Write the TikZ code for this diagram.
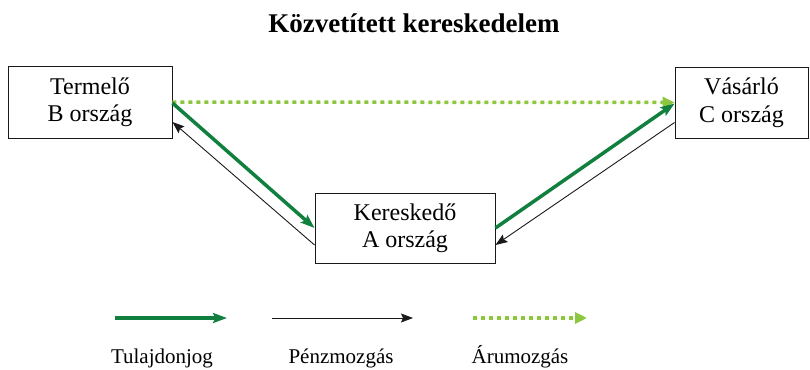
\documentclass[tikz,border=0pt]{standalone}
\usepackage{fontspec}
\setmainfont{Liberation Serif}
\usepackage{tikz}
\usepackage{xcolor}
\usetikzlibrary{arrows.meta,positioning,calc}
\definecolor{Owner}{HTML}{11803F}
\definecolor{Goods}{HTML}{8DC63F}
\definecolor{Ink}{HTML}{1A1A1A}

\begin{document}
\begin{tikzpicture}[
  x=1pt,y=-1pt,
  country/.style={draw=Ink,line width=0.9pt,align=center,inner sep=0pt,font=\fontsize{24}{27.5}\selectfont},
  legendtext/.style={anchor=base,inner sep=0pt,font=\fontsize{21}{25}\selectfont},
  ownarrow/.style={-{Stealth[length=14pt,width=10pt,inset=2.5pt]},line width=3.5pt,draw=Owner},
  moneyarrow/.style={-{Stealth[length=12pt,width=9pt,inset=2pt]},line width=0.9pt,draw=Ink},
  goodsarrow/.style={-{Triangle[length=12pt,width=11pt]},line width=3.5pt,draw=Goods,fill=Goods,dash pattern=on 4pt off 4pt}
]
\useasboundingbox (0,0) rectangle (810,369);
\node[anchor=base,inner sep=0pt,font=\fontsize{27}{32}\selectfont\bfseries] (title) at (414,33) {Közvetített kereskedelem};
\node[country,minimum width=164pt,minimum height=72pt] (prod) at (90,102) {Termelő\\B ország};
\node[country,minimum width=133pt,minimum height=71pt] (buyer) at (741.5,102.5) {Vásárló\\C ország};
\node[country,minimum width=180pt,minimum height=70pt] (trader) at (405,228) {Kereskedő\\A ország};
\draw[goodsarrow] (prod.east) -- (buyer.west);
\draw[ownarrow] ([yshift=-1pt]prod.east) -- (trader.west);
\draw[moneyarrow] ([yshift=-17pt]trader.west) -- ([yshift=-20pt]prod.east);
\draw[ownarrow] (trader.east) -- ([yshift=-1pt]buyer.west);
\draw[moneyarrow] ([yshift=-20pt]buyer.west) -- ([yshift=-17pt]trader.east);
% legend
\coordinate (own1) at (115,318);
\coordinate (own2) at (227,318);
\coordinate (money1) at (272,318);
\coordinate (money2) at (413,318);
\coordinate (goods1) at (473,318);
\coordinate (goods2) at (587,318);
\draw[ownarrow] (own1) -- (own2);
\draw[moneyarrow] (money1) -- (money2);
\draw[goodsarrow] (goods1) -- (goods2);
\node[legendtext] (ownlbl) at (162,363) {Tulajdonjog};
\node[legendtext] (moneylbl) at (341,363) {Pénzmozgás};
\node[legendtext] (goodslbl) at (520,363) {Árumozgás};
\end{tikzpicture}
\end{document}
